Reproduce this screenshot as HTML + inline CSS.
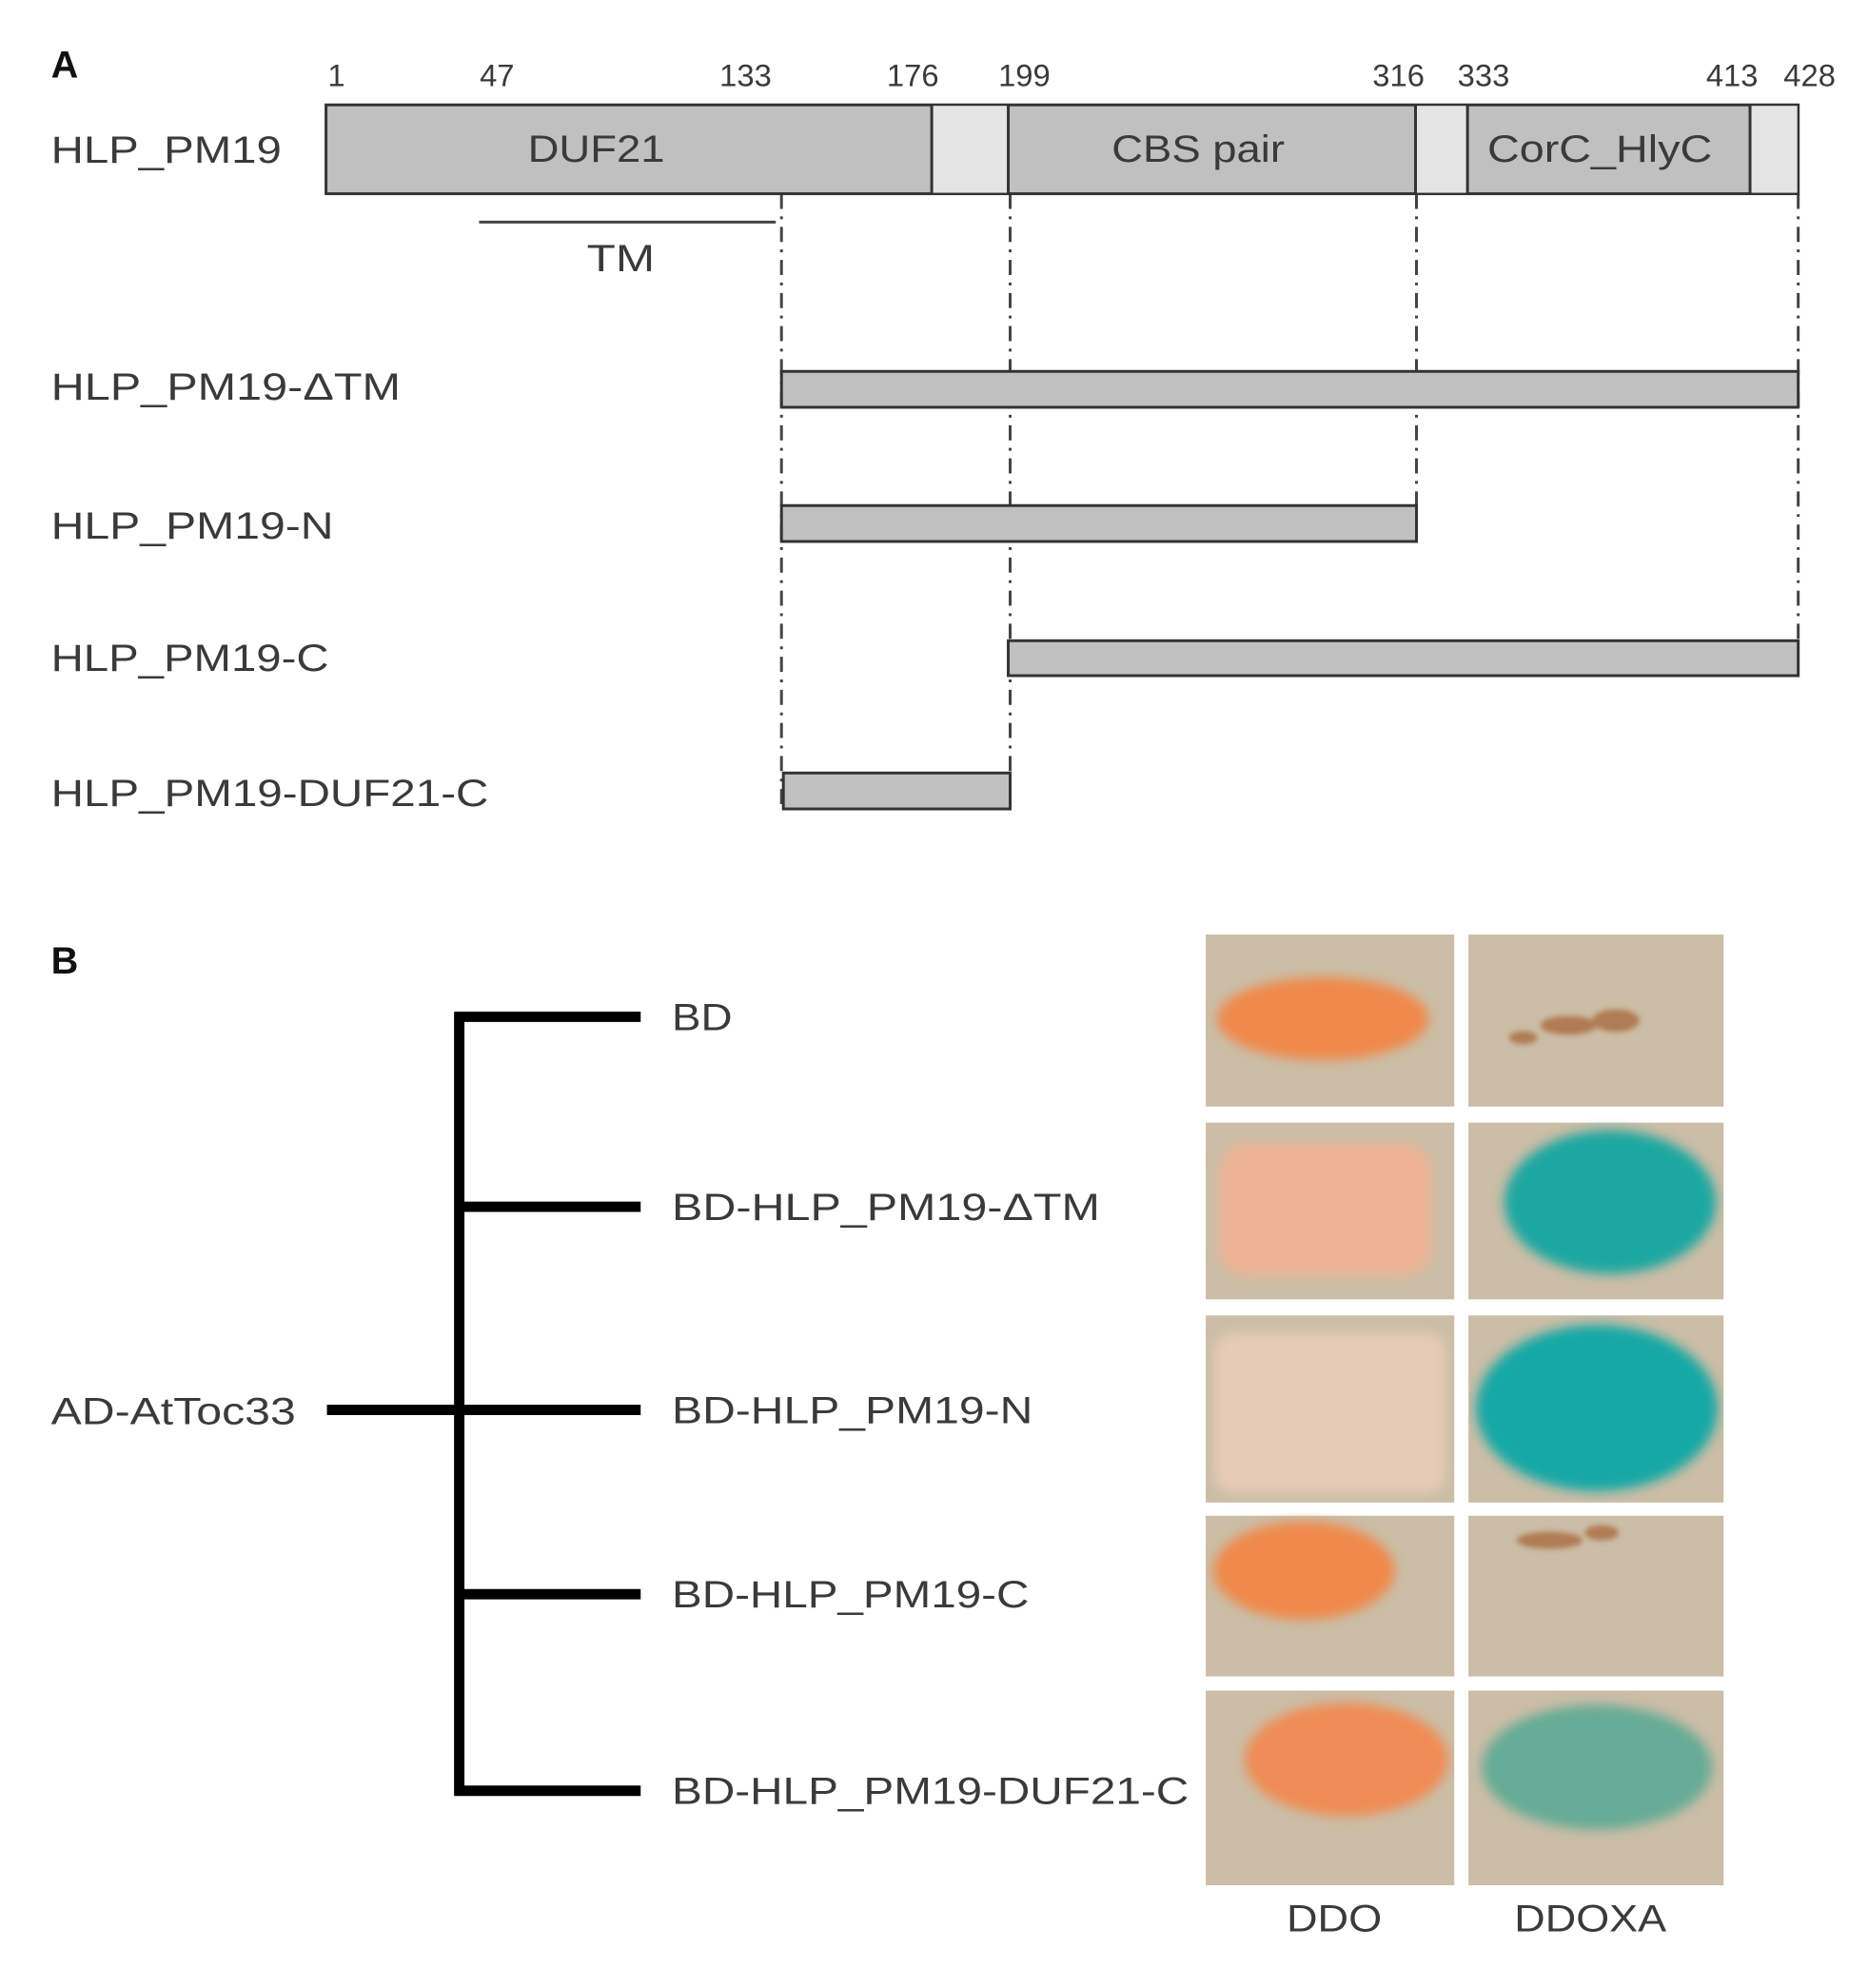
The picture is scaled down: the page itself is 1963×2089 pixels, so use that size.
<!DOCTYPE html>
<html><head><meta charset="utf-8"><style>html,body{margin:0;padding:0;background:#fff}svg{display:block}text{font-family:"Liberation Sans",sans-serif;fill:#3a3a3a}</style></head>
<body>
<svg width="1963" height="2089" viewBox="0 0 1963 2089" xmlns="http://www.w3.org/2000/svg">
<defs>
<filter id="b" x="-20%" y="-20%" width="140%" height="140%"><feGaussianBlur stdDeviation="6"/></filter>
<filter id="b2" x="-20%" y="-20%" width="140%" height="140%"><feGaussianBlur stdDeviation="3"/></filter>
<clipPath id="c1"><rect x="1276" y="989" width="263" height="1006"/></clipPath>
<clipPath id="c2"><rect x="1554" y="989" width="270" height="1006"/></clipPath>
</defs>
<g transform="scale(0.993)">
<text x="54" y="82" font-size="40" font-weight="bold" style="fill:#111">A</text>
<g font-size="33" text-anchor="middle">
<text x="356" y="91">1</text><text x="526" y="91">47</text><text x="789" y="91">133</text><text x="966" y="91">176</text><text x="1084" y="91">199</text><text x="1480" y="91">316</text><text x="1570" y="91">333</text><text x="1833" y="91">413</text><text x="1915" y="91">428</text>
</g>
<g stroke="#444" stroke-width="3" stroke-dasharray="16 8 3 8" fill="none">
<line x1="827" y1="205" x2="827" y2="856"/>
<line x1="1069" y1="205" x2="1069" y2="818"/>
<line x1="1499" y1="205" x2="1499" y2="535"/>
<line x1="1903" y1="205" x2="1903" y2="678"/>
</g>
<rect x="345" y="111" width="1558" height="94" fill="#c0c0c0" stroke="#333" stroke-width="3"/>
<rect x="986" y="112" width="81" height="92" fill="#e4e4e4"/>
<rect x="1498" y="112" width="55" height="92" fill="#e4e4e4"/>
<rect x="1852" y="112" width="50" height="92" fill="#e4e4e4"/>
<g stroke="#333" stroke-width="3"><line x1="986" y1="111" x2="986" y2="205"/><line x1="1067" y1="111" x2="1067" y2="205"/><line x1="1498" y1="111" x2="1498" y2="205"/><line x1="1553" y1="111" x2="1553" y2="205"/><line x1="1852" y1="111" x2="1852" y2="205"/></g>
<g font-size="40" text-anchor="middle">
<text x="631" y="171" textLength="145" lengthAdjust="spacingAndGlyphs">DUF21</text>
<text x="1268" y="171" textLength="183" lengthAdjust="spacingAndGlyphs">CBS pair</text>
<text x="1693" y="171" textLength="238" lengthAdjust="spacingAndGlyphs">CorC_HlyC</text>
<text x="657" y="287" textLength="72" lengthAdjust="spacingAndGlyphs">TM</text>
</g>
<line x1="507" y1="235" x2="821" y2="235" stroke="#444" stroke-width="3"/>
<g fill="#c0c0c0" stroke="#333" stroke-width="3">
<rect x="827" y="393" width="1076" height="38"/>
<rect x="827" y="535" width="672" height="38"/>
<rect x="1067" y="678" width="836" height="37"/>
<rect x="829" y="818" width="240" height="38"/>
</g>
<g font-size="40">
<text x="54" y="172" textLength="244" lengthAdjust="spacingAndGlyphs">HLP_PM19</text>
<text x="54" y="423" textLength="370" lengthAdjust="spacingAndGlyphs">HLP_PM19-ΔTM</text>
<text x="54" y="570" textLength="299" lengthAdjust="spacingAndGlyphs">HLP_PM19-N</text>
<text x="54" y="710" textLength="294" lengthAdjust="spacingAndGlyphs">HLP_PM19-C</text>
<text x="54" y="853" textLength="463" lengthAdjust="spacingAndGlyphs">HLP_PM19-DUF21-C</text>
</g>
<text x="54" y="1030" font-size="40" font-weight="bold" style="fill:#111">B</text>
<g stroke="#000" stroke-width="11" fill="none">
<line x1="486" y1="1071" x2="486" y2="1900"/>
<line x1="481" y1="1076" x2="678" y2="1076"/>
<line x1="486" y1="1277" x2="678" y2="1277"/>
<line x1="346" y1="1492" x2="678" y2="1492"/>
<line x1="486" y1="1687" x2="678" y2="1687"/>
<line x1="481" y1="1895" x2="678" y2="1895"/>
</g>
<g font-size="40">
<text x="54" y="1507" textLength="259" lengthAdjust="spacingAndGlyphs">AD-AtToc33</text>
<text x="711" y="1090" textLength="64" lengthAdjust="spacingAndGlyphs">BD</text>
<text x="711" y="1291" textLength="453" lengthAdjust="spacingAndGlyphs">BD-HLP_PM19-ΔTM</text>
<text x="711" y="1506" textLength="382" lengthAdjust="spacingAndGlyphs">BD-HLP_PM19-N</text>
<text x="711" y="1701" textLength="378" lengthAdjust="spacingAndGlyphs">BD-HLP_PM19-C</text>
<text x="711" y="1909" textLength="547" lengthAdjust="spacingAndGlyphs">BD-HLP_PM19-DUF21-C</text>
<text x="1412" y="2044" text-anchor="middle" textLength="101" lengthAdjust="spacingAndGlyphs">DDO</text>
<text x="1683" y="2044" text-anchor="middle" textLength="161" lengthAdjust="spacingAndGlyphs">DDOXA</text>
</g>
<g fill="#cbbda6">
<rect x="1276" y="989" width="263" height="182"/><rect x="1554" y="989" width="270" height="182"/>
<rect x="1276" y="1188" width="263" height="187"/><rect x="1554" y="1188" width="270" height="187"/>
<rect x="1276" y="1392" width="263" height="198"/><rect x="1554" y="1392" width="270" height="198"/>
<rect x="1276" y="1604" width="263" height="170"/><rect x="1554" y="1604" width="270" height="170"/>
<rect x="1276" y="1789" width="263" height="206"/><rect x="1554" y="1789" width="270" height="206"/>
</g>
<g clip-path="url(#c1)"><g filter="url(#b)">
<ellipse cx="1400" cy="1078" rx="112" ry="44" fill="#f0894c"/>
<rect x="1290" y="1210" width="225" height="140" rx="30" fill="#eeb394"/>
<rect x="1285" y="1410" width="245" height="170" rx="20" fill="#e6cbb6"/>
<ellipse cx="1380" cy="1662" rx="96" ry="52" fill="#f0894c"/>
<ellipse cx="1425" cy="1862" rx="108" ry="60" fill="#f08c54"/>
</g></g>
<g clip-path="url(#c2)"><g filter="url(#b)">
<ellipse cx="1704" cy="1272" rx="112" ry="76" fill="#1ea7a2"/>
<ellipse cx="1690" cy="1490" rx="128" ry="88" fill="#18a8a6"/>
<ellipse cx="1690" cy="1870" rx="122" ry="66" fill="#66ac96"/>
</g>
<g filter="url(#b2)" fill="#b07c52">
<ellipse cx="1660" cy="1085" rx="30" ry="10"/><ellipse cx="1710" cy="1080" rx="25" ry="12"/><ellipse cx="1612" cy="1098" rx="15" ry="7"/>
<ellipse cx="1640" cy="1630" rx="35" ry="9"/><ellipse cx="1695" cy="1622" rx="18" ry="8"/>
</g></g>
</g>
</svg>
</body></html>
